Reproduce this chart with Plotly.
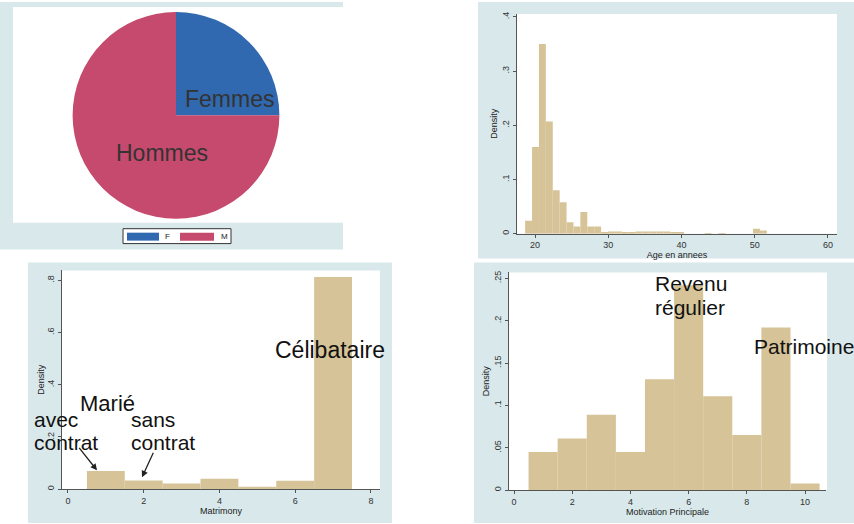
import plotly.graph_objects as go

W, H = 854, 524

# ---------------- data ----------------
sex_labels = ["F", "M"]
sex_values = [25, 75]
sex_names = ["Femmes", "Hommes"]

age_bin_start = 18.65
age_bin_width = 0.943
age_density = [0.024, 0.160, 0.350, 0.207, 0.080, 0.058, 0.021, 0.013, 0.040, 0.013,
               0.013, 0.002, 0.004, 0.004, 0.003, 0.003, 0.004, 0.004, 0.004, 0.004,
               0.004, 0.003, 0.002, 0.000, 0.000, 0.000, 0.001, 0.000, 0.001, 0.000,
               0.000, 0.000, 0.000, 0.009, 0.006]
age_xticks = [20, 30, 40, 50, 60]
age_yticks = [0, 0.1, 0.2, 0.3, 0.4]
age_yticktext = ["0", ".1", ".2", ".3", ".4"]

matri_cat = [1, 2, 3, 4, 5, 6, 7]
matri_density = [0.070, 0.033, 0.022, 0.040, 0.009, 0.032, 0.813]
matri_xticks = [0, 2, 4, 6, 8]
matri_yticks = [0, 0.2, 0.4, 0.6, 0.8]
matri_yticktext = ["0", ".2", ".4", ".6", ".8"]

motiv_cat = [1, 2, 3, 4, 5, 6, 7, 8, 9, 10]
motiv_density = [0.045, 0.061, 0.089, 0.045, 0.131, 0.242, 0.111, 0.065, 0.192, 0.008]
motiv_xticks = [0, 2, 4, 6, 8, 10]
motiv_yticks = [0, 0.05, 0.10, 0.15, 0.20, 0.25]
motiv_yticktext = ["0", ".05", ".1", ".15", ".2", ".25"]

# ---------------- style ----------------
FONT = "Liberation Sans, Arial, sans-serif"
BG_BLUE = "#d8e8eb"
TAN = "#d6c398"
PIE_BLUE = "#3169b0"
PIE_RED = "#c64a6d"
AX = "#555555"


def px(x):
    return x / W


def py(y):
    return 1 - y / H


fig = go.Figure()

# pie
fig.add_trace(go.Pie(
    labels=sex_labels, values=sex_values, sort=False, direction="clockwise",
    rotation=0, marker=dict(colors=[PIE_BLUE, PIE_RED]), textinfo="none",
    hoverinfo="label+percent", showlegend=False,
    domain=dict(x=[px(72), px(280)], y=[py(218), py(10)]),
))

# histograms
age_centers = [age_bin_start + (i + 0.5) * age_bin_width for i in range(len(age_density))]
fig.add_trace(go.Bar(x=age_centers, y=age_density, width=age_bin_width,
                     marker=dict(color=TAN, line=dict(width=0)),
                     xaxis="x", yaxis="y", showlegend=False))
fig.add_trace(go.Bar(x=matri_cat, y=matri_density, width=1,
                     marker=dict(color=TAN, line=dict(width=0)),
                     xaxis="x2", yaxis="y2", showlegend=False))
fig.add_trace(go.Bar(x=motiv_cat, y=motiv_density, width=1,
                     marker=dict(color=TAN, line=dict(width=0)),
                     xaxis="x3", yaxis="y3", showlegend=False))

tickfont = dict(family=FONT, size=9, color="#333333")
titlefont = dict(family=FONT, size=9, color="#222222")


def xax(domain, anchor, rng, ticks, title):
    return dict(domain=domain, anchor=anchor, range=rng, tickvals=ticks,
                showline=True, linecolor=AX, linewidth=1, ticks="outside",
                ticklen=3, tickcolor=AX, showgrid=False, zeroline=False,
                tickfont=tickfont, title=dict(text=title, font=titlefont, standoff=1),
                fixedrange=True)


def yax(domain, anchor, rng, ticks, ticktext, standoff=2):
    return dict(domain=domain, anchor=anchor, range=rng, tickvals=ticks,
                ticktext=ticktext, tickangle=-90,
                showline=True, linecolor=AX, linewidth=1, ticks="outside",
                ticklen=3, tickcolor=AX, showgrid=False, zeroline=False,
                tickfont=tickfont, title=dict(text="Density", font=titlefont, standoff=standoff),
                fixedrange=True)


shapes = []
# background panels (light blue graph regions)
for (x0, y0, x1, y1) in [(0, 0, 343, 249), (478, 0, 854, 258),
                         (28, 262, 392, 524), (474, 262, 854, 524)]:
    shapes.append(dict(type="rect", xref="paper", yref="paper", layer="below",
                       x0=px(x0), x1=px(x1), y0=py(y1), y1=py(y0),
                       fillcolor=BG_BLUE, line=dict(width=0)))
# white plot regions
for (x0, y0, x1, y1) in [(13, 5, 343, 222), (517, 12, 837, 233),
                         (62, 270, 380, 490), (509, 272, 827, 491)]:
    shapes.append(dict(type="rect", xref="paper", yref="paper", layer="below",
                       x0=px(x0), x1=px(x1), y0=py(y1), y1=py(y0),
                       fillcolor="white", line=dict(width=0)))
# pie legend box
shapes.append(dict(type="rect", xref="paper", yref="paper", layer="above",
                   x0=px(123), x1=px(231), y0=py(243), y1=py(228),
                   fillcolor="white", line=dict(color="#333333", width=1)))
shapes.append(dict(type="rect", xref="paper", yref="paper", layer="above",
                   x0=px(127), x1=px(159), y0=py(240), y1=py(232),
                   fillcolor=PIE_BLUE, line=dict(width=0)))
shapes.append(dict(type="rect", xref="paper", yref="paper", layer="above",
                   x0=px(180), x1=px(214), y0=py(240), y1=py(232),
                   fillcolor=PIE_RED, line=dict(width=0)))

annotations = []


def txt(t, x, y, size, xanchor="left", color="#111111"):
    annotations.append(dict(text=t, x=px(x), y=py(y), xref="paper", yref="paper",
                            xanchor=xanchor, yanchor="middle", showarrow=False,
                            font=dict(family=FONT, size=size, color=color)))


# pie labels
txt(sex_names[0], 229, 98, 23, "center", "#333333")
txt(sex_names[1], 162, 152, 23, "center", "#333333")
txt(sex_labels[0], 167, 236, 8, "center", "#222222")
txt(sex_labels[1], 224, 236, 8, "center", "#222222")

# matrimony labels
txt("Célibataire", 273, 350, 23)
txt("Marié", 78, 404, 22)
txt("avec", 32, 420, 21)
txt("contrat", 32, 443, 21)
txt("sans", 129, 420, 21)
txt("contrat", 129, 443, 21)
# arrows
annotations.append(dict(text="", x=px(97), y=py(471), xref="paper", yref="paper",
                        ax=-19, ay=-24, showarrow=True, arrowhead=2, arrowsize=1,
                        arrowwidth=1.3, arrowcolor="#222222"))
annotations.append(dict(text="", x=px(142), y=py(478), xref="paper", yref="paper",
                        ax=12, ay=-26, showarrow=True, arrowhead=2, arrowsize=1,
                        arrowwidth=1.3, arrowcolor="#222222"))

# motivation labels
txt("Revenu", 653, 283, 21)
txt("régulier", 653, 307, 21)
txt("Patrimoine", 752, 346, 21)

fig.update_layout(
    width=W, height=H, autosize=False,
    margin=dict(l=0, r=0, t=0, b=0),
    paper_bgcolor="white", plot_bgcolor="rgba(0,0,0,0)",
    font=dict(family=FONT),
    showlegend=False,
    xaxis=xax([px(517), px(837)], "y", [17.54, 61.23], age_xticks, "Age en annees"),
    yaxis=yax([py(233), py(12)], "x", [0, 0.4055], age_yticks, age_yticktext),
    xaxis2=xax([px(62), px(380)], "y2", [-0.158, 8.24], matri_xticks, "Matrimony"),
    yaxis2=yax([py(490), py(270)], "x2", [0, 0.838], matri_yticks, matri_yticktext, 0),
    xaxis3=xax([px(509), px(826)], "y3", [-0.172, 10.72], motiv_xticks, "Motivation Principale"),
    yaxis3=yax([py(491), py(272)], "x3", [0, 0.257], motiv_yticks, motiv_yticktext),
    shapes=shapes, annotations=annotations,
)

fig.write_html("out.html", config={"displayModeBar": False},
               post_script="document.body.style.margin='0px';document.body.style.padding='0px';")
